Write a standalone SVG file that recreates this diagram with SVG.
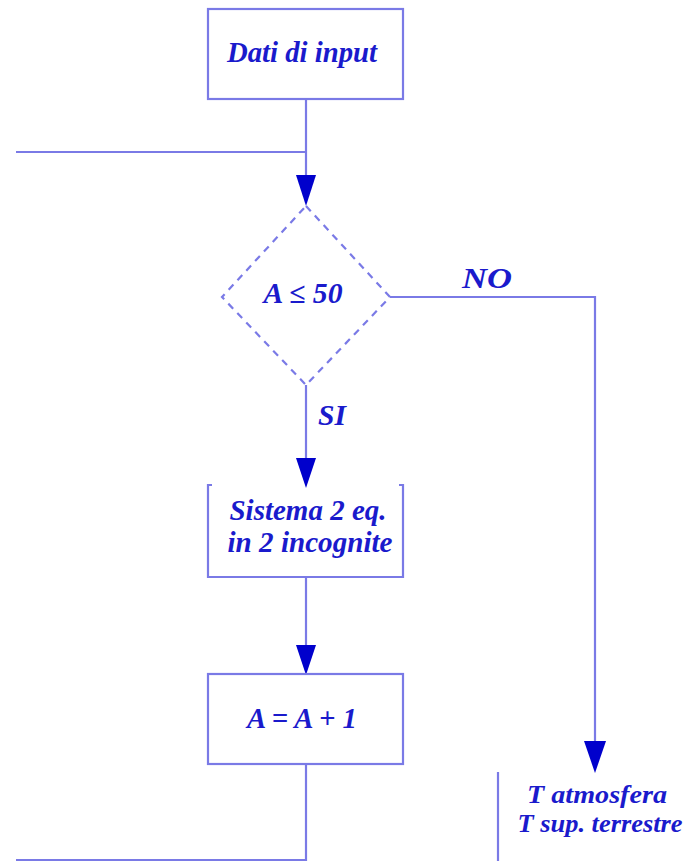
<svg xmlns="http://www.w3.org/2000/svg" width="688" height="861" viewBox="0 0 688 861">
<defs>
<style>
.ln{fill:none;stroke:#7a7ae6;stroke-width:2.2}
.bx{fill:#fff;stroke:#7a7ae6;stroke-width:2.2}
.dm{fill:#fff;stroke:#7a7ae6;stroke-width:2.2;stroke-dasharray:7,6}
.t{font-family:"Liberation Serif","Times New Roman",serif;font-weight:bold;font-style:italic;font-size:29px;fill:#1a1acc;text-anchor:middle}
.s{font-size:26px}
</style>
</defs>
<rect width="688" height="861" fill="#fff"/>
<g id="connectors">
<path class="ln" d="M306,99 V175"/>
<path class="ln" d="M16,152 H306"/>
<path d="M296,175 L316,175 L306,206 Z" fill="#0000cc"/>
<path class="ln" d="M390,297 H595 V742"/>
<path d="M584,741 L606,741 L595,773 Z" fill="#0000cc"/>
<path class="ln" d="M306,385 V458"/>
<path d="M296,458 L316,458 L306,488 Z" fill="#0000cc"/>
<path class="ln" d="M306,577 V645"/>
<path d="M296,645 L316,645 L306,675 Z" fill="#0000cc"/>
<path class="ln" d="M306,764 V861"/>
<path class="ln" d="M16,860 H306"/>
<text class="t" x="487" y="288" textLength="50" lengthAdjust="spacingAndGlyphs">NO</text>
<text class="t" x="332" y="425" textLength="28" lengthAdjust="spacingAndGlyphs">SI</text>
</g>
<g id="n1">
<rect class="bx" x="208" y="9" width="195" height="90"/>
<text class="t" x="302" y="62" textLength="150" lengthAdjust="spacingAndGlyphs">Dati di input</text>
</g>
<g id="n2">
<path class="dm" d="M306,206 L390,297 L306,385 L222,297 Z"/>
<text class="t" x="303" y="303" textLength="79" lengthAdjust="spacingAndGlyphs">A ≤ 50</text>
</g>
<g id="n3">
<path class="ln" d="M212,485 H208 V577 H403 V485 H399"/>
<text class="t" x="308" y="520" textLength="157" lengthAdjust="spacingAndGlyphs">Sistema 2 eq.</text>
<text class="t" x="310" y="552" textLength="165" lengthAdjust="spacingAndGlyphs">in 2 incognite</text>
</g>
<g id="n4">
<rect class="bx" x="208" y="674" width="195" height="90"/>
<text class="t" x="302" y="728" textLength="110" lengthAdjust="spacingAndGlyphs">A = A + 1</text>
</g>
<g id="n5">
<path class="ln" d="M498,772 V861"/>
<text class="t s" x="597" y="803" textLength="140" lengthAdjust="spacingAndGlyphs">T atmosfera</text>
<text class="t s" x="600" y="832" textLength="165" lengthAdjust="spacingAndGlyphs">T sup. terrestre</text>
</g>
</svg>
